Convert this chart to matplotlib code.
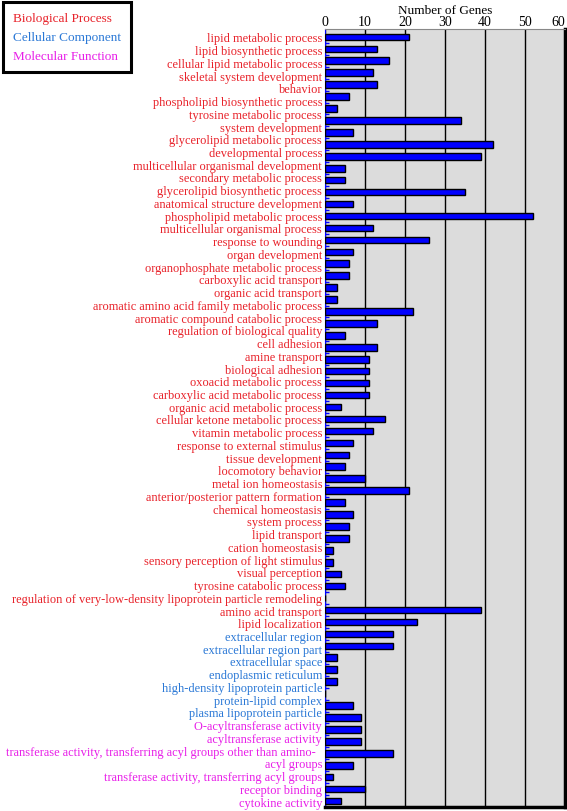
import numpy as np
import matplotlib
matplotlib.use('Agg')
import matplotlib.pyplot as plt
from matplotlib.lines import Line2D

plt.rcParams['font.family'] = ['Liberation Serif', 'DejaVu Serif']

# ---- data ----
terms = [
    'lipid metabolic process', 'lipid biosynthetic process', 'cellular lipid metabolic process',
    'skeletal system development', 'behavior', 'phospholipid biosynthetic process',
    'tyrosine metabolic process', 'system development', 'glycerolipid metabolic process',
    'developmental process', 'multicellular organismal development', 'secondary metabolic process',
    'glycerolipid biosynthetic process', 'anatomical structure development',
    'phospholipid metabolic process', 'multicellular organismal process', 'response to wounding',
    'organ development', 'organophosphate metabolic process', 'carboxylic acid transport',
    'organic acid transport', 'aromatic amino acid family metabolic process',
    'aromatic compound catabolic process', 'regulation of biological quality', 'cell adhesion',
    'amine transport', 'biological adhesion', 'oxoacid metabolic process',
    'carboxylic acid metabolic process', 'organic acid metabolic process',
    'cellular ketone metabolic process', 'vitamin metabolic process',
    'response to external stimulus', 'tissue development', 'locomotory behavior',
    'metal ion homeostasis', 'anterior/posterior pattern formation', 'chemical homeostasis',
    'system process', 'lipid transport', 'cation homeostasis',
    'sensory perception of light stimulus', 'visual perception', 'tyrosine catabolic process',
    'regulation of very-low-density lipoprotein particle remodeling', 'amino acid transport',
    'lipid localization',
    'extracellular region', 'extracellular region part', 'extracellular space',
    'endoplasmic reticulum', 'high-density lipoprotein particle', 'protein-lipid complex',
    'plasma lipoprotein particle',
    'O-acyltransferase activity', 'acyltransferase activity',
    'transferase activity, transferring acyl groups other than amino-  ', 'acyl groups',
    'transferase activity, transferring acyl groups', 'receptor binding', 'cytokine activity',
]
term_group = ['BP'] * 47 + ['CC'] * 7 + ['MF'] * 7

# bars in the picture (there are more bars than label lines)
gene_counts = [21, 13, 16, 12, 13, 6, 3, 34, 7, 42, 39, 5, 5, 35, 7, 52, 12, 26, 7, 6,
               6, 3, 3, 22, 13, 5, 13, 11, 11, 11, 11, 4, 15, 12, 7, 6, 5, 10, 21, 5,
               7, 6, 6, 2, 2, 4, 5, 0, 39, 23, 17, 17, 3, 3, 3, 0, 7, 9, 9, 9,
               17, 7, 2, 10, 4]

group_names = ['Biological Process', 'Cellular Component', 'Molecular Function']
group_colors = {'BP': '#e8222a', 'CC': '#2a78d6', 'MF': '#e81ee8'}

# ---- figure ----
fig = plt.figure(figsize=(5.67, 8.12), dpi=100)
ax = fig.add_axes([0.5732, 0.0049, 0.4233, 0.958])
ax.set_facecolor('#dcdcdc')

pos = np.arange(len(gene_counts))
ax.barh(pos, gene_counts, height=0.55, color='#0000ff', edgecolor='black', linewidth=1, zorder=3)

ax.set_xlim(0, 60)
ax.set_ylim(len(gene_counts) - 0.5, -0.65)
ax.xaxis.tick_top()
ax.xaxis.set_label_position('top')
ax.set_xticks(np.arange(0, 61, 10))
ax.tick_params(axis='x', length=0, pad=1, labelsize=10)
ax.get_xticklabels()[-1].set_horizontalalignment('right')
ax.set_xlabel('Number of Genes', fontsize=9.5, labelpad=1)
ax.xaxis.grid(True, color='black', linewidth=1)
ax.set_axisbelow(True)

# label lines spread evenly over the bar range
label_pos = np.linspace(0, len(gene_counts) - 1, len(terms))
ax.set_yticks(label_pos)
ax.set_yticklabels(terms, fontsize=8.9)
for lbl, g in zip(ax.get_yticklabels(), term_group):
    lbl.set_color(group_colors[g])
ax.tick_params(axis='y', which='major', length=0, pad=2)
ax.set_yticks(pos + 0.5, minor=True)
ax.tick_params(axis='y', which='minor', direction='in', length=3, color='#0000ff', width=1)

ax.spines['left'].set_color('#0000ff')
ax.spines['top'].set_color('#888888')
ax.spines['right'].set_linewidth(2.5)
ax.spines['bottom'].set_linewidth(2.5)

# ---- legend box ----
handles = [Line2D([], [], linestyle='none') for _ in group_names]
leg = fig.legend(handles, group_names, loc='upper left', bbox_to_anchor=(0.005, 0.996),
                 handlelength=0, handletextpad=0, labelcolor=list(group_colors.values()),
                 fancybox=False, edgecolor='black', fontsize=9.5, borderpad=0.75,
                 labelspacing=0.5, borderaxespad=0, framealpha=1)
leg.get_frame().set_linewidth(2.2)

fig.savefig('out.png', dpi=100)
